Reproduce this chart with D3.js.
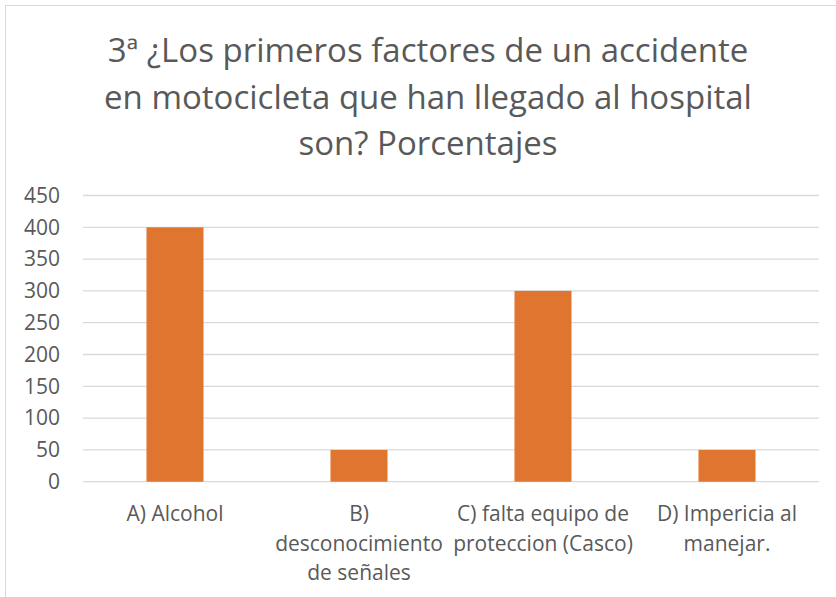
<!DOCTYPE html>
<html>
<head>
<meta charset="utf-8">
<script src="https://cdn.jsdelivr.net/npm/d3@7"></script>
<style>
  body { margin: 0; background: #fff; }
  text { font-family: "Open Sans", "Liberation Sans", sans-serif; fill: #595959; }
</style>
</head>
<body>
<div id="chart"></div>
<script>
var titleLines = ["3ª  ¿Los primeros factores de un accidente",
                  "en motocicleta que han llegado al hospital",
                  "son? Porcentajes"];
var categories = ["A) Alcohol", "B)\ndesconocimiento\nde señales",
                  "C) falta equipo de\nproteccion (Casco)", "D) Impericia al\nmanejar."];
var values = [400, 50, 300, 50];
var yTicks = [0, 50, 100, 150, 200, 250, 300, 350, 400, 450];

var w = 836, h = 597;
var plotLeft = 83, plotRight = 819, plotTop = 195.5, plotBottom = 481.7;

var svg = d3.select("#chart").append("svg")
  .attr("width", w)
  .attr("height", h);

// chart border
svg.append("rect")
  .attr("x", 5.5).attr("y", 5.5)
  .attr("width", 900).attr("height", 700)
  .style("fill", "none")
  .style("stroke", "#d9d9d9")
  .style("stroke-width", 1);

svg.selectAll(".title")
  .data(titleLines)
  .enter().append("text")
  .attr("class", "title")
  .attr("x", 428)
  .attr("y", function(d, i) { return 62 + i * 46.5; })
  .attr("text-anchor", "middle")
  .style("font-size", "33px")
  .text(function(d) { return d; });

var x = d3.scaleBand().domain(categories).range([plotLeft, plotRight]).paddingInner(0.69).paddingOuter(0.345);
var y = d3.scaleLinear().domain([0, 450]).range([plotBottom, plotTop]);

svg.selectAll(".grid")
  .data(yTicks)
  .enter().append("line")
  .attr("x1", plotLeft).attr("x2", plotRight)
  .attr("y1", function(d) { return y(d); })
  .attr("y2", function(d) { return y(d); })
  .style("stroke", "#d9d9d9")
  .style("stroke-width", 1.3);

var yAxis = svg.append("g")
  .attr("transform", "translate(60,0)")
  .call(d3.axisLeft(y).tickValues(yTicks).tickSize(0).tickPadding(0));
yAxis.select(".domain").remove();
yAxis.attr("font-family", null).attr("font-size", null);
yAxis.selectAll("text").style("font-size", "21px").style("fill", "#595959");

svg.selectAll(".bar")
  .data(values)
  .enter().append("rect")
  .attr("x", function(d, i) { return x(categories[i]); })
  .attr("width", x.bandwidth())
  .attr("y", function(d) { return y(d); })
  .attr("height", function(d) { return y(0) - y(d); })
  .style("fill", "#e0752f");

var labels = svg.selectAll(".cat")
  .data(categories)
  .enter().append("text")
  .attr("class", "cat")
  .attr("text-anchor", "middle")
  .attr("transform", function(d) { return "translate(" + (x(d) + x.bandwidth() / 2) + ",521)"; })
  .style("font-size", "21px");

labels.selectAll("tspan")
  .data(function(d) { return d.split("\n"); })
  .enter().append("tspan")
  .attr("x", 0)
  .attr("dy", function(d, i) { return i === 0 ? 0 : 29.5; })
  .text(function(d) { return d; });
</script>
</body>
</html>
